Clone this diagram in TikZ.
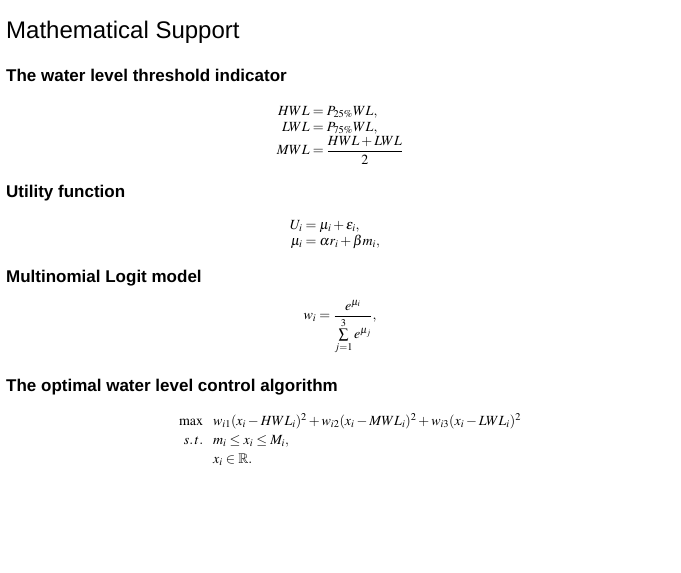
\documentclass[tikz,border=0pt]{standalone}
\usepackage{amsmath,amssymb}
\usepackage{mathptmx}
\usepackage{fontspec}
\setsansfont{Liberation Sans}
\tikzset{
  title/.style={anchor=west,font=\sffamily\fontsize{24}{28}\selectfont,inner sep=0pt},
  head/.style={anchor=west,font=\sffamily\bfseries\fontsize{17}{20}\selectfont,inner sep=0pt},
  eq/.style={font=\fontsize{14}{16}\selectfont,inner sep=0pt}
}
\begin{document}
\begin{tikzpicture}[x=1pt,y=-1pt]
\useasboundingbox (0,0) rectangle (681,573);
\node[title] (t) at (6,32) {Mathematical Support};
\node[head] (h1) at (6,75) {The water level threshold indicator};
\node[eq] (e1) at (340,134) {$\begin{aligned}
HWL &= P_{25\%}WL,\\[-3pt]
LWL &= P_{75\%}WL,\\[-4pt]
MWL &= \frac{HWL+LWL}{2}
\end{aligned}$};
\node[head] (h2) at (6,193) {Utility function};
\node[eq] (e2) at (335,234) {$\begin{aligned}
U_i &= \mu_i+\epsilon_i,\\[-3pt]
\mu_i &= \alpha r_i+\beta m_i,
\end{aligned}$};
\node[head] (h3) at (6,278) {Multinomial Logit model};
\node[eq] (e3) at (340,327) {$w_i=\dfrac{e^{\mu_i}}{\sum\limits_{j=1}^{3}e^{\mu_j}},$};
\node[head] (h4) at (6,387) {The optimal water level control algorithm};
\node[eq] (e4) at (350,441) {$\begin{array}{rl}
\max & w_{i1}(x_i-HWL_i)^2+w_{i2}(x_i-MWL_i)^2+w_{i3}(x_i-LWL_i)^2\\[3pt]
s.\,t. & m_i\le x_i\le M_i,\\[3pt]
 & x_i\in\mathbb{R}.
\end{array}$};
\end{tikzpicture}
\end{document}
